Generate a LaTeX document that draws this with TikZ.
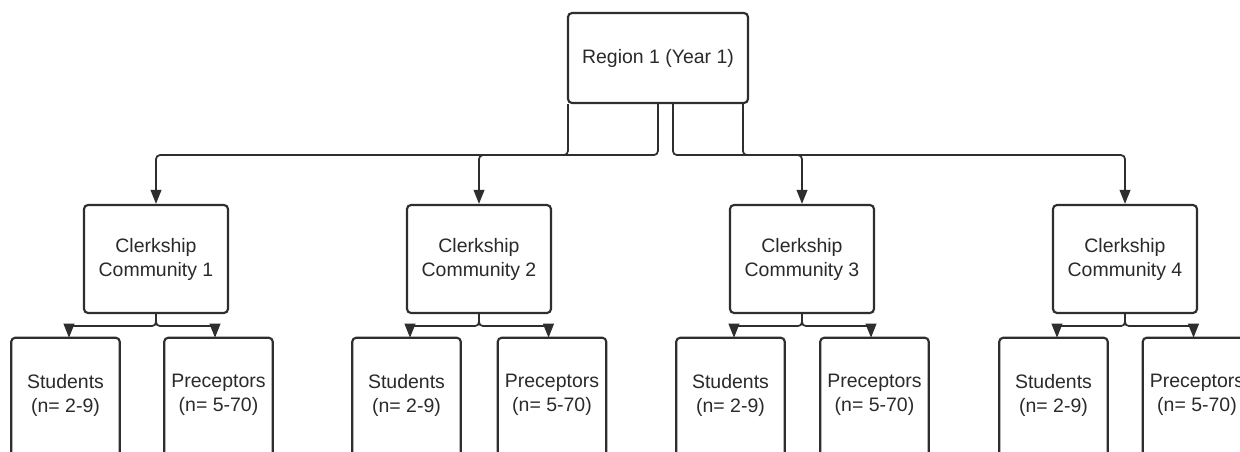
\documentclass[tikz,border=0pt]{standalone}
\usepackage{fontspec}
\setmainfont{Liberation Sans}
\usetikzlibrary{arrows.meta,calc}
\definecolor{linec}{HTML}{2E2E2E}
\definecolor{textc}{HTML}{2A2A2A}
\begin{document}
\begin{tikzpicture}[x=0.75pt,y=-0.75pt,
  box/.style={draw=linec, line width=1.6pt, rounded corners=3pt, fill=white,
    align=center, text=textc, inner sep=0pt,
    font=\fontsize{14.6pt}{18pt}\selectfont},
  leaftext/.style={align=center, text=textc, inner sep=0pt,
    minimum width=81pt, minimum height=85.5pt,
    font=\fontsize{14.6pt}{18pt}\selectfont},
  leafline/.style={draw=linec, line width=1.6pt, rounded corners=3pt},
  conn/.style={draw=linec, line width=1.3pt, rounded corners=3pt,
    -{Triangle[length=10.5pt,width=8pt]}}]
\useasboundingbox (0,0) rectangle (1240,452);
\fill[white] (0,0) rectangle (1240,452);
\clip (0,0) rectangle (1240,452);

\node[box, minimum width=135pt, minimum height=67.5pt] (top) at (658,58) {Region 1 (Year 1)};

\foreach \i/\cx/\sx/\qx in {1/156/65.5/218.5, 2/479/406.5/552, 3/802/730.5/874.5, 4/1125/1053.5/1197} {
  \node[box, minimum width=108pt, minimum height=81pt] (c\i) at (\cx,259) {Clerkship\\Community \i};
  \node[leaftext] (s\i) at (\sx,395) {Students\\(n= 2-9)};
  \node[leaftext] (p\i) at (\qx,395) {Preceptors\\(n= 5-70)};
  \draw[leafline] ($(s\i.south west)+(0,40)$) |- (s\i.north) -| ($(s\i.south east)+(0,40)$);
  \draw[leafline] ($(p\i.south west)+(0,40)$) |- (p\i.north) -| ($(p\i.south east)+(0,40)$);
  \draw[conn] (c\i.south) -- ++(0,12) -| ($(s\i.north)+(3.5,0)$);
  \draw[conn] (c\i.south) -- ++(0,12) -| ($(p\i.north)+(-3.5,0)$);
}

\draw[conn] ($(top.south west)+(1,0)$) -- ++(0,51) -| (c1.north);
\draw[conn] ($(top.south west)+(91,0)$) -- ++(0,51) -| (c2.north);
\draw[conn] ($(top.south west)+(106,0)$) -- ++(0,51) -| (c3.north);
\draw[conn] ($(top.south west)+(176,0)$) -- ++(0,51) -| (c4.north);
\end{tikzpicture}
\end{document}
